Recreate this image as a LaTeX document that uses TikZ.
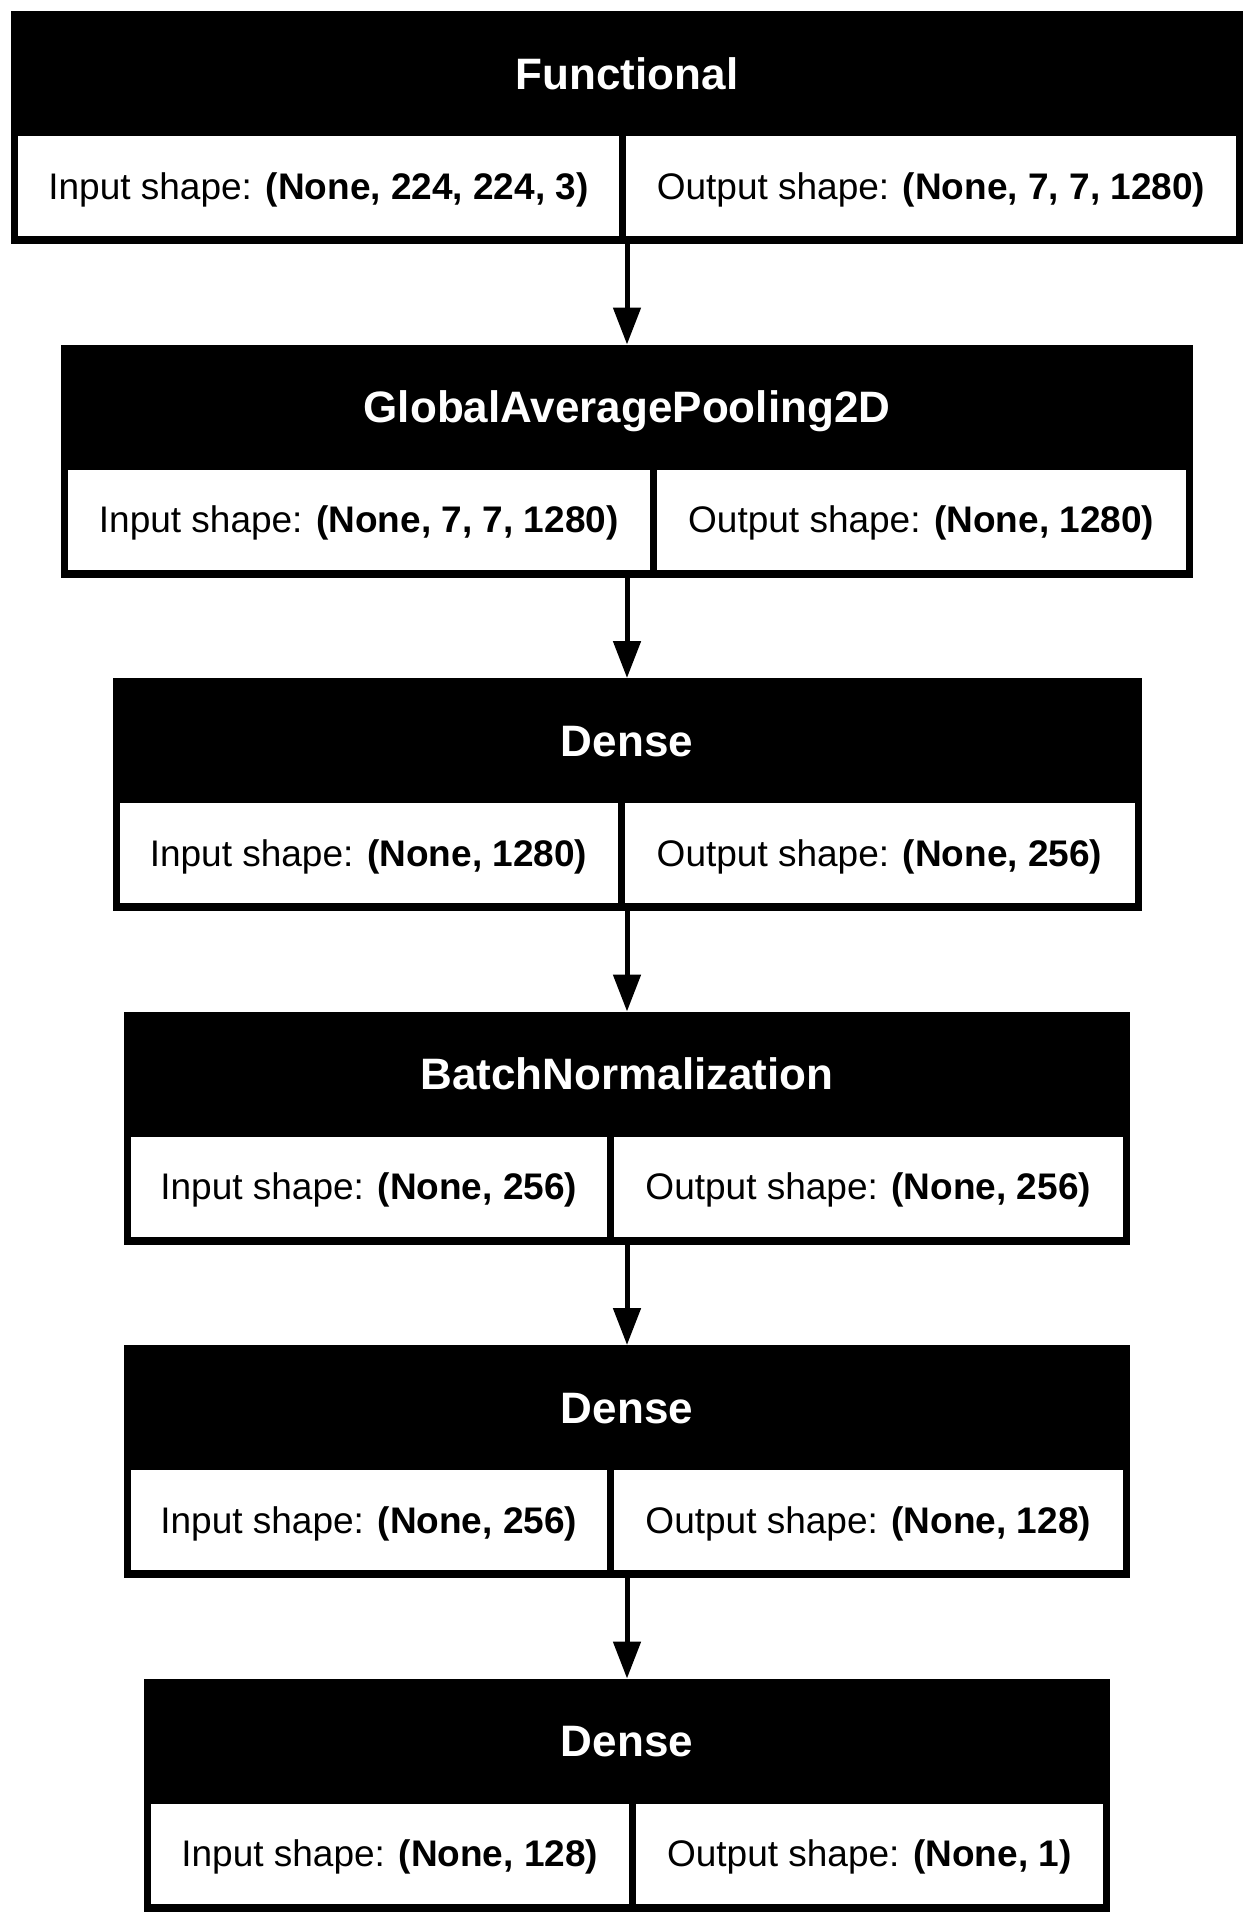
\documentclass[tikz,border=0pt]{standalone}
\usepackage{fontspec}
\setmainfont{Liberation Sans}
\usetikzlibrary{arrows.meta}

\tikzset{
  layer/.style={fill=black, draw=none, inner sep=0pt, outer sep=0pt, minimum height=233pt},
  head/.style={text=white, font=\fontsize{44}{50}\selectfont\bfseries, inner sep=0pt, outer sep=0pt, text height=31.5pt, text depth=0pt},
  cell/.style={fill=white, draw=none, inner sep=0pt, outer sep=0pt, minimum height=100pt,
    font=\fontsize{37}{44}\selectfont, text height=26.5pt, text depth=0pt},
  flow/.style={line width=5pt, -{Triangle[width=27pt,length=37pt]}},
}

% #1 name, #2 top edge, #3 half width, #4 x of the divider between the cells,
% #5 layer title, #6 input shape, #7 output shape
\newcommand{\layerbox}[7]{%
  \pgfmathsetmacro{\Lx}{627-#3}%
  \pgfmathsetmacro{\Rx}{627+#3}%
  \pgfmathsetlengthmacro{\Wo}{2*#3}%
  \pgfmathsetlengthmacro{\Wl}{#4-3.5-\Lx-7}%
  \pgfmathsetlengthmacro{\Wr}{\Rx-7-#4-3.5}%
  \pgfmathsetmacro{\Ty}{#2+125}%
  \pgfmathsetmacro{\Hy}{#2+62.5}%
  \node[layer, minimum width=\Wo, anchor=north] (#1) at (627,#2) {};%
  \node[head] (#1-head) at (627,\Hy) {#5};%
  \node[cell, minimum width=\Wl, anchor=north west] (#1-in) at (\Lx+7,\Ty) {Input shape: \textbf{#6}};%
  \node[cell, minimum width=\Wr, anchor=north east] (#1-out) at (\Rx-7,\Ty) {Output shape: \textbf{#7}};%
}

\begin{document}
\begin{tikzpicture}[x=1pt,y=-1pt]
  \fill[white] (0,0) rectangle (1256,1922);
  \useasboundingbox (0,0) rectangle (1256,1922);

  \layerbox{b1}{11}{616}{622.5}{Functional}{(None, 224, 224, 3)}{(None, 7, 7, 1280)}
  \layerbox{b2}{344.5}{566}{653}{GlobalAveragePooling2D}{(None, 7, 7, 1280)}{(None, 1280)}
  \layerbox{b3}{678}{514.5}{621}{Dense}{(None, 1280)}{(None, 256)}
  \layerbox{b4}{1011.5}{503}{610}{BatchNormalization}{(None, 256)}{(None, 256)}
  \layerbox{b5}{1345}{503}{610}{Dense}{(None, 256)}{(None, 128)}
  \layerbox{b6}{1678.5}{483}{632}{Dense}{(None, 128)}{(None, 1)}

  \draw[flow] (b1.south) -- (b2.north);
  \draw[flow] (b2.south) -- (b3.north);
  \draw[flow] (b3.south) -- (b4.north);
  \draw[flow] (b4.south) -- (b5.north);
  \draw[flow] (b5.south) -- (b6.north);
\end{tikzpicture}
\end{document}
